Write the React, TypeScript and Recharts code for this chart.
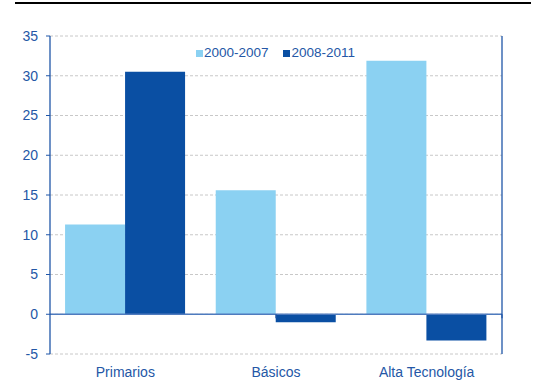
import {
  BarChart,
  Bar,
  XAxis,
  YAxis,
  CartesianGrid,
  ReferenceLine,
  Legend,
} from 'recharts'

const categories = ['Primarios', 'Básicos', 'Alta Tecnología']
const period1 = [11.3, 15.6, 31.9]
const period2 = [30.5, -1.0, -3.3]
const seriesNames = ['2000-2007', '2008-2011']
const yTicks = [-5, 0, 5, 10, 15, 20, 25, 30, 35]
const boundaries = [1, 2]

const LIGHT = '#8BD1F2'
const DARK = '#0A4FA3'
const AXIS = '#1F56A8'
const TEXT = '#2457A6'
const FONT = '"Liberation Sans", Arial, sans-serif'

const data = categories.map((c, i) => ({
  name: c,
  a: period1[i],
  b: period2[i],
}))

function LegendBox({ payload }: { payload?: Array<{ value: string; color: string }> }) {
  return (
    <div style={{ display: 'flex', fontFamily: FONT, fontSize: 13.5, color: TEXT, lineHeight: '16px' }}>
      {(payload ?? []).map((p, i) => (
        <div key={i} style={{ display: 'flex', alignItems: 'center', marginRight: 14 }}>
          <span style={{ width: 7, height: 7, background: p.color, marginRight: i === 0 ? 1 : 2 }} />
          <span>{p.value}</span>
        </div>
      ))}
    </div>
  )
}

export default function App() {
  return (
    <div style={{ position: 'absolute', left: 0, top: 0, width: 538, height: 392, background: '#fff' }}>
      <div style={{ position: 'absolute', left: 15, top: 2, width: 516, height: 2, background: '#000' }} />
      <BarChart
        width={538}
        height={392}
        data={data}
        margin={{ top: 36, right: 0, bottom: 0, left: 0 }}
        barCategoryGap="10%"
        barGap={0}
      >
        <CartesianGrid yAxisId="left" xAxisId="cat" vertical={false} stroke="#C8C8C8" strokeDasharray="3 2" />
        <XAxis
          xAxisId="cat"
          dataKey="name"
          height={38}
          axisLine={false}
          tickLine={false}
          tickSize={0}
          tickMargin={13}
          tick={{ fill: TEXT, fontSize: 14, fontFamily: FONT }}
        />
        <XAxis xAxisId="n" type="number" domain={[0, 3]} hide />
        <YAxis
          yAxisId="left"
          domain={[-5, 35]}
          ticks={yTicks}
          width={50}
          interval={0}
          axisLine={{ stroke: AXIS, strokeWidth: 1.3 }}
          tickLine={{ stroke: AXIS }}
          tickSize={4}
          tickMargin={8}
          tick={{ fill: TEXT, fontSize: 14, fontFamily: FONT }}
        />
        <YAxis
          yAxisId="right"
          orientation="right"
          domain={[-5, 35]}
          ticks={yTicks}
          width={36}
          interval={0}
          axisLine={{ stroke: AXIS, strokeWidth: 1.3 }}
          tickLine={{ stroke: AXIS }}
          tickSize={4}
          tickMargin={9}
          tick={{ fill: TEXT, fontSize: 14, fontFamily: FONT }}
        />
        <Legend
          layout="horizontal"
          verticalAlign="middle"
          align="center"
          content={(props: any) => <LegendBox payload={props.payload} />}
          wrapperStyle={{ top: 45, left: 196, width: 'auto' }}
        />
        <Bar xAxisId="cat" yAxisId="left" dataKey="a" name={seriesNames[0]} fill={LIGHT} isAnimationActive={false} />
        <Bar xAxisId="cat" yAxisId="left" dataKey="b" name={seriesNames[1]} fill={DARK} isAnimationActive={false} />
        <ReferenceLine xAxisId="cat" yAxisId="left" y={0} stroke="#4F7BBE" strokeWidth={1.5} />
        {boundaries.map((b) => (
          <ReferenceLine
            key={b}
            xAxisId="n"
            yAxisId="left"
            segment={[
              { x: b, y: 0 },
              { x: b, y: -0.5 },
            ]}
            stroke={AXIS}
            strokeWidth={1.3}
          />
        ))}
      </BarChart>
    </div>
  )
}
